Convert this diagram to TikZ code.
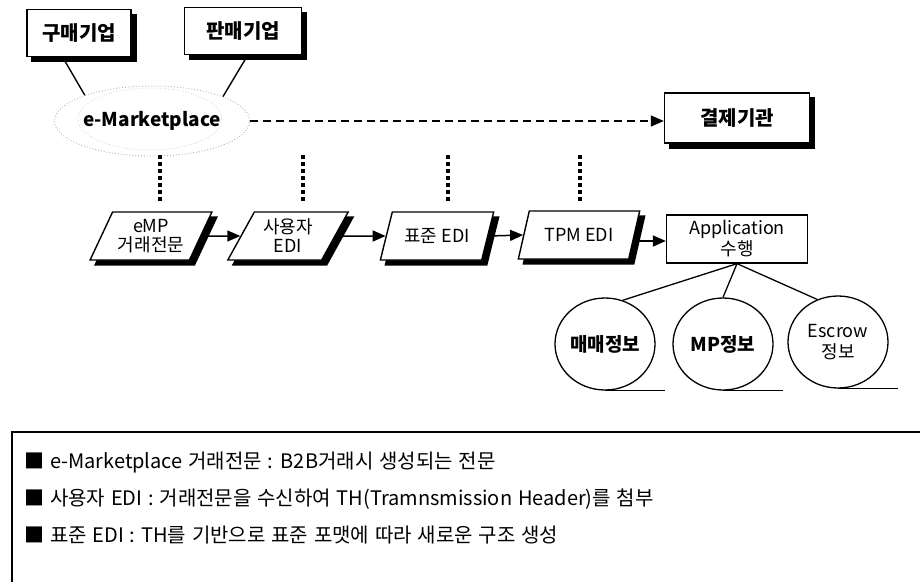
\documentclass[tikz,border=0pt]{standalone}
\usepackage{fontspec}
\setmainfont{Noto Sans CJK KR}
\newfontfamily\legendfont[WordSpace=1.3]{Noto Sans CJK KR}
\usetikzlibrary{shapes.geometric,arrows.meta,backgrounds}
\begin{document}
\begin{tikzpicture}[x=1pt,y=-1pt,
  shbox/.style={draw, line width=1.4pt, fill=white, inner sep=0pt,
    font=\bfseries\fontsize{20}{20}\selectfont},
  para/.style={trapezium, trapezium left angle=60, trapezium right angle=120,
    trapezium stretches=true, draw, line width=1.4pt, fill=white, inner sep=0pt,
    minimum height=48, align=center,
    font=\fontsize{18}{19}\selectfont},
  info/.style={ellipse, draw, line width=1.3pt, minimum width=100, minimum height=92,
    inner sep=0pt, align=center, font=\fontsize{18}{21}\selectfont},
  flow/.style={line width=1.5pt, -{Triangle[length=13pt,width=11pt]}},
  dotline/.style={line width=3.5pt, dash pattern=on 3.5pt off 3.5pt},
  bullet/.style={anchor=west, inner sep=0pt, font=\legendfont\fontsize{20}{21}\selectfont}
]
\useasboundingbox (0,0) rectangle (920,582);

% top boxes
\node[shbox, minimum width=104, minimum height=47] (buy) at (79,33) {구매기업};
\node[shbox, minimum width=117, minimum height=47] (sell) at (243,31) {판매기업};
\node[shbox, minimum width=145, minimum height=50] (pay) at (737,118) {결제기관};

% e-Marketplace cloud
\node[ellipse, draw=gray!60, dotted, line width=0.9pt, minimum width=156, minimum height=70,
      inner sep=0pt, font=\bfseries\fontsize{19}{19}\selectfont] (mp) at (152,121) {e-Marketplace};
\draw[gray!50, dotted, line width=0.6pt] (150,119) ellipse [x radius=72, y radius=31];

\draw[line width=1.4pt] (buy.236) -- (mp.159);
\draw[line width=1.4pt] (sell.281) -- (mp.19);

\draw[line width=1.3pt, dash pattern=on 8pt off 5pt, -{Triangle[length=13pt,width=11pt]}]
  (mp.east) -- (mp.east -| pay.west);

% parallelograms
\node[para, minimum width=122] (p1) at (151,236) {eMP\\거래전문};
\node[para, minimum width=121] (p2) at (288,236) {사용자\\EDI};
\node[para, minimum width=114] (p3) at (437,236) {표준 EDI};
\node[para, minimum width=122] (p4) at (579,235) {TPM EDI};

% shadows
\begin{scope}[on background layer]
\fill[black] ([shift={(5pt,-5pt)}]buy.south west) rectangle ([shift={(5pt,-5pt)}]buy.north east);
\fill[black] ([shift={(5pt,-5pt)}]sell.south west) rectangle ([shift={(5pt,-5pt)}]sell.north east);
\fill[black] ([shift={(5pt,-5pt)}]pay.south west) rectangle ([shift={(5pt,-5pt)}]pay.north east);
\fill[black] ([shift={(5pt,-5pt)}]p1.bottom left corner) -- ([shift={(5pt,-5pt)}]p1.bottom right corner) -- ([shift={(5pt,-5pt)}]p1.top right corner) -- ([shift={(5pt,-5pt)}]p1.top left corner) -- cycle;
\fill[black] ([shift={(5pt,-5pt)}]p2.bottom left corner) -- ([shift={(5pt,-5pt)}]p2.bottom right corner) -- ([shift={(5pt,-5pt)}]p2.top right corner) -- ([shift={(5pt,-5pt)}]p2.top left corner) -- cycle;
\fill[black] ([shift={(5pt,-5pt)}]p3.bottom left corner) -- ([shift={(5pt,-5pt)}]p3.bottom right corner) -- ([shift={(5pt,-5pt)}]p3.top right corner) -- ([shift={(5pt,-5pt)}]p3.top left corner) -- cycle;
\fill[black] ([shift={(5pt,-5pt)}]p4.bottom left corner) -- ([shift={(5pt,-5pt)}]p4.bottom right corner) -- ([shift={(5pt,-5pt)}]p4.top right corner) -- ([shift={(5pt,-5pt)}]p4.top left corner) -- cycle;
\end{scope}

\node[draw, line width=1.3pt, minimum width=141, minimum height=48, inner sep=0pt,
      align=center, font=\fontsize{18}{21}\selectfont] (app) at (737,239) {Application\\수행};

\draw[flow] (p1.east) -- (p2.west);
\draw[flow] (p2.east) -- (p3.west);
\draw[flow] (p3.east) -- (p4.west);
\draw[flow] ([yshift=-6pt]p4.east) -- ([yshift=-6pt]p4.east -| app.west);

% dotted verticals
\coordinate (d1t) at (160,155); \coordinate (d1b) at (160,204);
\coordinate (d2t) at (303,155); \coordinate (d2b) at (303,204);
\coordinate (d3t) at (448,155); \coordinate (d3b) at (448,204);
\coordinate (d4t) at (580,155); \coordinate (d4b) at (580,204);
\draw[dotline] (d1t) -- (d1b);
\draw[dotline] (d2t) -- (d2b);
\draw[dotline] (d3t) -- (d3b);
\draw[dotline] (d4t) -- (d4b);

% info ellipses
\node[info, font=\bfseries\fontsize{19}{21}\selectfont] (e1) at (605,344) {매매정보};
\node[info, font=\bfseries\fontsize{19}{21}\selectfont] (e2) at (723,344) {MP정보};
\node[info] (e3) at (838,342) {Escrow\\정보};
\draw[line width=1.3pt] (app.south) -- (e1.68);
\draw[line width=1.3pt] (app.south) -- (e2.north);
\draw[line width=1.3pt] (app.south) -- (e3.116);
\draw[line width=1.5pt] (e1.south) -- ++(60,0);
\draw[line width=1.5pt] (e2.south) -- ++(60,0);
\draw[line width=1.5pt] (e3.south) -- ++(60,0);

% legend box
\draw[line width=1.3pt] (12,582) -- (12,432) -- (920,432);
\node[bullet] (t1) at (24,463) {■ e-Marketplace 거래전문 : B2B거래시 생성되는 전문};
\node[bullet] (t2) at (24,499) {■ 사용자 EDI : 거래전문을 수신하여 TH(Tramnsmission Header)를 첨부};
\node[bullet] (t3) at (24,535) {■ 표준 EDI : TH를 기반으로 표준 포맷에 따라 새로운 구조 생성};
\end{tikzpicture}
\end{document}
